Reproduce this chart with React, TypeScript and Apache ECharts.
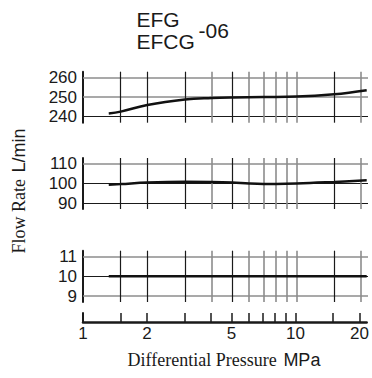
import React, { useEffect, useRef } from "react";
import * as echarts from "echarts";

// Differential pressure (MPa) vs flow rate (L/min)
const p1X = [1.32, 1.5, 2, 3, 4, 5, 7, 10, 15, 21.3];
const p1Y = [241.7, 242.6, 246, 248.8, 249.6, 249.9, 250.1, 250.3, 251.5, 253.6];
const p2X = [1.32, 1.5, 2, 3, 4, 5, 6, 7, 8, 10, 15, 21.3];
const p2Y = [99.4, 99.7, 100.5, 100.9, 100.8, 100.5, 100, 99.8, 99.8, 100, 100.8, 101.6];
const p3X = [1.32, 21.3];
const p3Y = [10, 10];

const xGridValues = [1.5, 2, 3, 4, 5, 6, 7, 8, 9, 10, 15, 20];
const xGridDark = [true, true, true, false, true, false, false, false, false, false, true, false];
const xTickValues = [1, 1.5, 2, 3, 4, 5, 6, 7, 8, 9, 10, 15, 20];
const xLabelValues = [1, 2, 5, 10, 20];

const p1Ticks = [240, 250, 260];
const p1Dark = [true, false, false];
const p2Ticks = [90, 100, 110];
const p2Dark = [true, true, false];
const p3Ticks = [9, 10, 11];
const p3Dark = [false, true, false];

const SANS = '"Liberation Sans", Arial, sans-serif';
const SERIF = '"Liberation Serif", "Times New Roman", serif';
const DARK = "#1a1a1a";
const GRAY = "#8c8c8c";

function App() {
  const ref = useRef<HTMLDivElement>(null);
  useEffect(() => {
    if (!ref.current) return;
    const chart = echarts.init(ref.current, null, { renderer: "svg" });

    const grids = [
      { top: 71.7, height: 51 },
      { top: 158, height: 51 },
      { top: 250.7, height: 51.3 },
      { top: 313, height: 9 },
    ].map((g) => ({ left: 83, width: 285, top: g.top, height: g.height }));

    const xAxes = grids.map((_, i) => ({
      type: "log",
      logBase: 10,
      gridIndex: i,
      min: 1,
      max: 21.6,
      axisLine:
        i === 3
          ? { show: true, lineStyle: { color: DARK, width: 2.5 } }
          : { show: false },
      axisTick:
        i === 3
          ? {
              show: true,
              inside: true,
              length: 9,
              customValues: xTickValues,
              lineStyle: { color: DARK, width: 1.5 },
            }
          : { show: false },
      axisLabel:
        i === 3
          ? {
              show: true,
              customValues: xLabelValues,
              fontSize: 17,
              fontFamily: SANS,
              color: DARK,
              margin: 3,
            }
          : { show: false },
      splitLine: { show: false },
      minorTick: { show: false },
      minorSplitLine: { show: false },
    }));

    const mkY = (i: number, min: number, max: number, ticks: number[] | null) => ({
      type: "value",
      gridIndex: i,
      min,
      max,
      axisLine: { show: true, lineStyle: { color: DARK, width: 2 } },
      axisTick: { show: false },
      splitLine: { show: false },
      axisLabel: ticks
        ? {
            show: true,
            customValues: ticks,
            fontSize: 17,
            fontFamily: SANS,
            color: DARK,
            margin: 6,
          }
        : { show: false },
    });

    const pad1 = (6 * 20) / 39;
    const yAxes = [
      mkY(0, 240 - pad1, 260 + pad1, p1Ticks),
      mkY(1, 87, 113, p2Ticks),
      mkY(2, 8.7, 11.3, p3Ticks),
      mkY(3, 0, 1, null),
    ];

    const markLines = (hTicks: number[], hDark: boolean[]) => ({
      silent: true,
      symbol: ["none", "none"],
      label: { show: false },
      animation: false,
      data: [
        ...hTicks.map((v, k) => ({
          yAxis: v,
          lineStyle: {
            type: "solid",
            color: hDark[k] ? DARK : GRAY,
            width: hDark[k] ? 1.2 : 1.6,
          },
        })),
        ...xGridValues.map((v, k) => ({
          xAxis: v,
          lineStyle: {
            type: "solid",
            color: xGridDark[k] ? DARK : GRAY,
            width: xGridDark[k] ? 1.2 : 1.6,
          },
        })),
      ],
    });

    const mkSeries = (i: number, xs: number[], ys: number[], hT: number[], hD: boolean[]) => ({
      type: "line",
      xAxisIndex: i,
      yAxisIndex: i,
      data: xs.map((x, k) => [x, ys[k]]),
      smooth: 0.4,
      showSymbol: false,
      symbol: "none",
      z: 5,
      lineStyle: { color: "#111", width: 2.5 },
      markLine: markLines(hT, hD),
    });

    chart.setOption({
      animation: false,
      backgroundColor: "#fff",
      grid: grids,
      xAxis: xAxes,
      yAxis: yAxes,
      series: [
        mkSeries(0, p1X, p1Y, p1Ticks, p1Dark),
        mkSeries(1, p2X, p2Y, p2Ticks, p2Dark),
        mkSeries(2, p3X, p3Y, p3Ticks, p3Dark),
      ],
      graphic: [
        {
          type: "text",
          x: 136.5,
          y: 30.5,
          style: {
            text: "EFG\nEFCG",
            font: `21px ${SANS}`,
            lineHeight: 21.6,
            fill: DARK,
            align: "left",
            verticalAlign: "middle",
          },
        },
        {
          type: "text",
          x: 198.5,
          y: 30.8,
          style: { text: "-06", font: `21px ${SANS}`, lineHeight: 20, fill: DARK, align: "left", verticalAlign: "middle" },
        },
        {
          type: "text",
          x: 224,
          y: 360,
          style: {
            text: "{a|Differential Pressure}  {b|MPa}",
            align: "center",
            verticalAlign: "middle",
            rich: {
              a: { font: `18px ${SERIF}`, fill: DARK },
              b: { font: `18px ${SANS}`, fill: DARK },
            },
          },
        },
        {
          type: "text",
          x: 19,
          y: 191,
          rotation: Math.PI / 2,
          style: {
            text: "{a|Flow Rate}  {b|L/min}",
            align: "center",
            verticalAlign: "middle",
            rich: {
              a: { font: `18px ${SERIF}`, fill: DARK },
              b: { font: `18px ${SANS}`, fill: DARK },
            },
          },
        },
      ],
    });
    return () => chart.dispose();
  }, []);
  return <div ref={ref} style={{ width: 372, height: 378, position: "absolute", left: 0, top: 0 }} />;
}

export default App;
